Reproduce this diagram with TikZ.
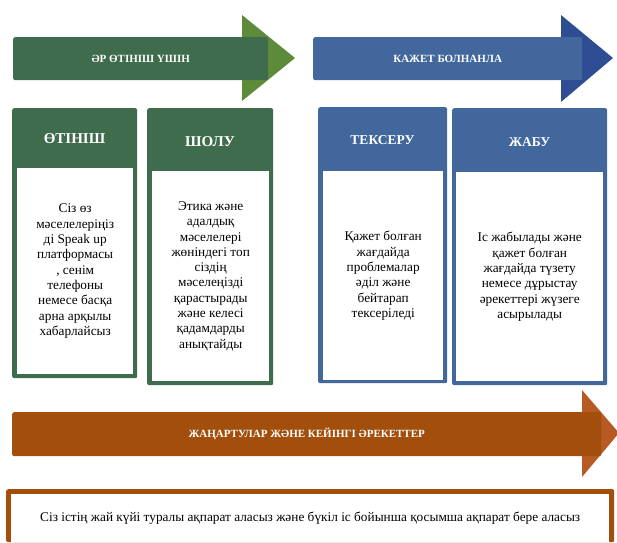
\documentclass[tikz,border=0pt]{standalone}
\usepackage{fontspec}
\setmainfont{Liberation Serif}
\usetikzlibrary{positioning}
\definecolor{grnbody}{HTML}{3F6C4D}
\definecolor{grnhead}{HTML}{5E8B3A}
\definecolor{bluebody}{HTML}{41679C}
\definecolor{bluehead}{HTML}{2E4D93}
\definecolor{orgbody}{HTML}{A24E0C}
\definecolor{orghead}{HTML}{B85A24}

\begin{document}
\begin{tikzpicture}[
    x = 1pt, y = -1pt,
    band/.style = {rounded corners=2pt, text=white, anchor=north west,
        inner sep=0pt, font=\bfseries\fontsize{11}{13}\selectfont},
    card/.style = {rounded corners=2pt, anchor=north west, inner sep=0pt},
    sheet/.style = {fill=white, anchor=north west, inner sep=0pt, align=center,
        font=\fontsize{13.3}{15.3}\selectfont},
    heading/.style = {text=white, font=\bfseries\fontsize{15}{18}\selectfont}
  ]
  \useasboundingbox (0,0) rectangle (617,542);

  % top arrows
  \fill[grnhead] (242,15) -- (295,58) -- (242,101) -- cycle;
  \node[band, fill=grnbody, minimum width=255pt, minimum height=43pt] (foreach) at (13,37) {ӘР ӨТІНІШ ҮШІН};
  \fill[bluehead] (561,15) -- (613,58) -- (561,102) -- cycle;
  \node[band, fill=bluebody, minimum width=269pt, minimum height=43pt] (ifneeded) at (313,37) {КАЖЕТ БОЛНАНЛА};

  % cards
  \node[card, fill=grnbody, minimum width=125pt, minimum height=270pt] (submit) at (12,108) {};
  \node[sheet, minimum width=116pt, minimum height=206pt] (submittxt) at (17,168)
    {Сіз өз\\мәселелеріңіз\\ді Speak up\\платформасы\\, сенім\\телефоны\\немесе басқа\\арна арқылы\\хабарлайсыз};
  \node[heading] (submitttl) at (74.5,139) {ӨТІНІШ};

  \node[card, fill=grnbody, minimum width=126pt, minimum height=277pt] (review) at (147,108) {};
  \node[sheet, minimum width=117pt, minimum height=210pt] (reviewtxt) at (152,171)
    {Этика және\\адалдық\\мәселелері\\жөніндегі топ\\сіздің\\мәселеңізді\\қарастырады\\және келесі\\қадамдарды\\анықтайды};
  \node[heading] (reviewttl) at (210,142) {ШОЛУ};

  \node[card, fill=bluebody, minimum width=129pt, minimum height=276pt] (check) at (318,107) {};
  \node[sheet, minimum width=120pt, minimum height=209pt] (checktxt) at (323,171)
    {Қажет болған\\жағдайда\\проблемалар\\әділ және\\бейтарап\\тексеріледі};
  \node[heading, font=\bfseries\fontsize{13.5}{16}\selectfont] (checkttl) at (382.5,140) {ТЕКСЕРУ};

  \node[card, fill=bluebody, minimum width=155pt, minimum height=277pt] (close) at (452,108) {};
  \node[sheet, minimum width=147pt, minimum height=209pt] (closetxt) at (456,172)
    {Іс жабылады және\\қажет болған\\жағдайда түзету\\немесе дұрыстау\\әрекеттері жүзеге\\асырылады};
  \node[heading, font=\bfseries\fontsize{13.5}{16}\selectfont] (closettl) at (529.5,142) {ЖАБУ};

  % bottom arrow
  \fill[orghead] (582,390) -- (619,433) -- (582,477) -- cycle;
  \node[band, fill=orgbody, minimum width=589pt, minimum height=44pt] (updates) at (12,412) {ЖАҢАРТУЛАР ЖӘНЕ КЕЙІНГІ ӘРЕКЕТТЕР};

  \node[card, fill=orgbody, minimum width=608pt, minimum height=53pt] (status) at (6,489) {};
  \node[sheet, minimum width=598pt, minimum height=48pt] (statustxt) at (11,494)
    {Сіз істің жай күйі туралы ақпарат аласыз және бүкіл іс бойынша қосымша ақпарат бере аласыз};
\end{tikzpicture}
\end{document}
